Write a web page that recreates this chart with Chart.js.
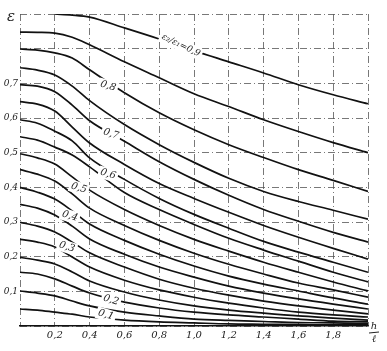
<!DOCTYPE html>
<html>
<head>
<meta charset="utf-8">
<script src="https://cdn.jsdelivr.net/npm/chart.js@4/dist/chart.umd.min.js"></script>
<style>
  body { margin: 0; background: #fff; }
  #wrap { width: 387px; height: 351px; }
</style>
</head>
<body>
<div id="wrap"><canvas id="chart" width="387" height="351"></canvas></div>
<script>
// h/l values where the curves were read
const xi = [0, 0.1, 0.2, 0.3, 0.4, 0.6, 0.8, 1.0, 1.2, 1.4, 1.6, 1.8, 2.0];

// epsilon curves, one per eps2/eps1 value (0.90 ... 0.05)
const c90 = [null, null, 0.900, 0.897, 0.891, 0.860, 0.828, 0.794, 0.762, 0.730, 0.696, 0.667, 0.641];
const c85 = [0.848, 0.847, 0.845, 0.833, 0.811, 0.762, 0.716, 0.670, 0.633, 0.595, 0.561, 0.529, 0.500];
const c80 = [0.799, 0.796, 0.788, 0.773, 0.739, 0.673, 0.615, 0.566, 0.523, 0.486, 0.451, 0.420, 0.388];
const c75 = [0.745, 0.738, 0.724, 0.692, 0.650, 0.581, 0.523, 0.472, 0.426, 0.388, 0.359, 0.334, 0.308];
const c70 = [0.696, 0.692, 0.676, 0.637, 0.592, 0.533, 0.474, 0.423, 0.377, 0.336, 0.302, 0.270, 0.242];
const c65 = [0.647, 0.640, 0.620, 0.574, 0.528, 0.466, 0.411, 0.368, 0.328, 0.290, 0.256, 0.224, 0.193];
const c60 = [0.595, 0.585, 0.562, 0.534, 0.485, 0.423, 0.368, 0.322, 0.282, 0.244, 0.213, 0.184, 0.155];
const c55 = [0.546, 0.536, 0.516, 0.493, 0.459, 0.385, 0.336, 0.293, 0.253, 0.219, 0.187, 0.155, 0.127];
const c50 = [0.497, 0.485, 0.467, 0.430, 0.392, 0.336, 0.290, 0.250, 0.216, 0.184, 0.155, 0.127, 0.101];
const c45 = [0.451, 0.438, 0.418, 0.381, 0.340, 0.290, 0.247, 0.210, 0.178, 0.150, 0.124, 0.104, 0.083];
const c40 = [0.400, 0.386, 0.366, 0.332, 0.294, 0.247, 0.207, 0.173, 0.144, 0.121, 0.101, 0.081, 0.063];
const c35 = [0.351, 0.340, 0.320, 0.288, 0.251, 0.207, 0.170, 0.141, 0.115, 0.095, 0.078, 0.063, 0.049];
const c30 = [0.299, 0.288, 0.271, 0.242, 0.211, 0.170, 0.135, 0.109, 0.089, 0.072, 0.058, 0.046, 0.035];
const c25 = [0.250, 0.242, 0.228, 0.199, 0.170, 0.132, 0.104, 0.083, 0.066, 0.052, 0.040, 0.032, 0.026];
const c20 = [0.198, 0.190, 0.179, 0.156, 0.130, 0.098, 0.075, 0.058, 0.046, 0.037, 0.029, 0.023, 0.017];
const c15 = [0.155, 0.150, 0.136, 0.115, 0.095, 0.069, 0.052, 0.040, 0.032, 0.026, 0.020, 0.014, 0.012];
const c10 = [0.101, 0.095, 0.087, 0.072, 0.058, 0.040, 0.029, 0.020, 0.016, 0.013, 0.010, 0.009, 0.007];
const c05 = [0.049, 0.046, 0.040, 0.034, 0.026, 0.017, 0.012, 0.009, 0.006, 0.005, 0.004, 0.003, 0.003];

const curves = [c90, c85, c80, c75, c70, c65, c60, c55, c50, c45, c40, c35, c30, c25, c20, c15, c10, c05];

// labels written on the curves: text, and where it sits (h/l, eps)
const labelText = ['ε₂/ε₁=0,9', '0,8', '0,7', '0,6', '0,5', '0,4', '0,3', '0,2', '0,1'];
const labelX = [0.925, 0.506, 0.523, 0.506, 0.339, 0.287, 0.270, 0.523, 0.494];
const labelY = [0.810, 0.692, 0.554, 0.438, 0.398, 0.317, 0.228, 0.075, 0.032];

const xTicks = [0.2, 0.4, 0.6, 0.8, 1.0, 1.2, 1.4, 1.6, 1.8];
const yTicks = [0.1, 0.2, 0.3, 0.4, 0.5, 0.6, 0.7];

const comma = v => v.toFixed(1).replace('.', ',');
const near = (list, v) => list.some(t => Math.abs(t - v) < 1e-6);

const datasets = curves.map(c => ({
    data: c.map((y, i) => ({ x: xi[i], y: y })),
    borderColor: '#111',
    borderWidth: 1.7,
    pointRadius: 0,
    cubicInterpolationMode: 'monotone',
    spanGaps: false,
    fill: false
}));

const curveLabels = {
    id: 'curveLabels',
    afterDatasetsDraw(chart) {
        const ctx = chart.ctx;
        const sx = chart.scales.x, sy = chart.scales.y;
        ctx.save();
        labelText.forEach((t, i) => {
            const px = sx.getPixelForValue(labelX[i]);
            const py = sy.getPixelForValue(labelY[i]);
            ctx.save();
            ctx.translate(px, py);
            ctx.rotate(i === 0 ? 0.45 : 0.3);
            ctx.font = i === 0 ? 'italic 9px "DejaVu Serif"' : 'italic 10px "DejaVu Serif"';
            const w = ctx.measureText(t).width;
            ctx.fillStyle = '#fff';
            ctx.fillRect(-w / 2 - 2, -6, w + 4, 12);
            ctx.fillStyle = '#222';
            ctx.textAlign = 'center';
            ctx.textBaseline = 'middle';
            ctx.fillText(t, 0, 0);
            ctx.restore();
        });
        // axis titles
        ctx.fillStyle = '#222';
        ctx.font = 'italic 15px "DejaVu Serif"';
        ctx.textAlign = 'center';
        ctx.textBaseline = 'middle';
        ctx.fillText('ε', 11, 17);
        ctx.font = 'italic 10px "DejaVu Serif"';
        ctx.fillText('h', 374, 326);
        ctx.fillText('ℓ', 374, 339);
        ctx.strokeStyle = '#222';
        ctx.lineWidth = 1;
        ctx.beginPath();
        ctx.moveTo(369, 333);
        ctx.lineTo(379, 332);
        ctx.stroke();
        ctx.restore();
    }
};

new Chart(document.getElementById('chart'), {
    type: 'line',
    data: { datasets: datasets },
    options: {
        responsive: false,
        animation: false,
        layout: { padding: { left: 0, top: 14, right: 19, bottom: 0 } },
        plugins: { legend: { display: false }, tooltip: { enabled: false } },
        scales: {
            x: {
                type: 'linear',
                min: 0,
                max: 2,
                afterFit: s => { s.height = 25; },
                ticks: {
                    stepSize: 0.2,
                    autoSkip: false,
                    maxRotation: 0,
                    padding: 3,
                    color: '#222',
                    font: { family: 'DejaVu Serif', style: 'italic', size: 10 },
                    callback: v => near(xTicks, v) ? comma(v) : ''
                },
                grid: { color: '#555', lineWidth: 0.8, drawTicks: false },
                border: { display: true, color: '#111', width: 1.6, dash: [7, 3, 1, 3] }
            },
            y: {
                min: 0,
                max: 0.9,
                afterFit: s => { s.width = 20; },
                ticks: {
                    stepSize: 0.1,
                    padding: 2,
                    color: '#222',
                    font: { family: 'DejaVu Serif', style: 'italic', size: 9 },
                    callback: v => near(yTicks, v) ? comma(v) : ''
                },
                grid: { color: '#555', lineWidth: 0.8, drawTicks: false },
                border: { display: false, dash: [7, 3, 1, 3] }
            }
        }
    },
    plugins: [curveLabels]
});
</script>
</body>
</html>
